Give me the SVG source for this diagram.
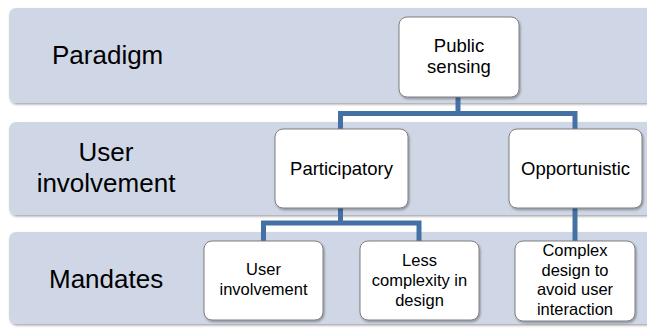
<svg xmlns="http://www.w3.org/2000/svg" width="647" height="328" viewBox="0 0 647 328">
  <defs>
    <filter id="shadow" x="-10%" y="-10%" width="125%" height="130%">
      <feDropShadow dx="1" dy="1.5" stdDeviation="1.2" flood-color="#000" flood-opacity="0.35"/>
    </filter>
  </defs>
  <style>
    .band { fill: #cfd6e5; filter: url(#shadow); }
    .box { fill: #ffffff; stroke: #7f7f7f; stroke-width: 1; filter: url(#shadow); }
    .lbl { font-family: "Liberation Sans", Arial, sans-serif; font-size: 26px; fill: #000; }
    .t { font-family: "Liberation Sans", Arial, sans-serif; font-size: 18.5px; fill: #000; text-anchor: middle; }
    .s { font-family: "Liberation Sans", Arial, sans-serif; font-size: 16.5px; fill: #000; text-anchor: middle; }
    .link { fill: none; stroke: #4470a6; stroke-width: 5; stroke-linejoin: miter; }
  </style>

  <!-- level bands -->
  <g id="band-paradigm">
    <rect class="band" x="9" y="8" width="660" height="95" rx="7"/>
    <text class="lbl" x="52" y="64">Paradigm</text>
  </g>
  <g id="band-involvement">
    <rect class="band" x="9" y="122" width="660" height="93" rx="7"/>
    <text class="lbl" x="106" y="161" text-anchor="middle">User</text>
    <text class="lbl" x="106" y="192" text-anchor="middle">involvement</text>
  </g>
  <g id="band-mandates">
    <rect class="band" x="9" y="232" width="660" height="92" rx="7"/>
    <text class="lbl" x="49" y="288">Mandates</text>
  </g>

  <!-- connectors -->
  <g id="connectors">
    <path class="link" d="M458,97 V113.5 M340.5,131 V113.5 H575 V131"/>
    <path class="link" d="M340.5,208 V223 M263.5,243 V223 H419 V243"/>
    <path class="link" d="M575,208 V243"/>
  </g>

  <!-- nodes -->
  <g id="public-sensing">
    <rect class="box" x="399" y="17" width="120" height="80" rx="8"/>
    <text class="t" x="459" y="52">Public</text>
    <text class="t" x="459" y="73">sensing</text>
  </g>
  <g id="participatory">
    <rect class="box" x="275" y="129" width="133" height="79" rx="8"/>
    <text class="t" x="341.5" y="175">Participatory</text>
  </g>
  <g id="opportunistic">
    <rect class="box" x="509" y="129" width="133" height="79" rx="8"/>
    <text class="t" x="575.5" y="175">Opportunistic</text>
  </g>
  <g id="user-involvement">
    <rect class="box" x="204" y="241" width="119" height="79" rx="8"/>
    <text class="s" x="263.5" y="275">User</text>
    <text class="s" x="263.5" y="295">involvement</text>
  </g>
  <g id="less-complexity">
    <rect class="box" x="360" y="241" width="119" height="79" rx="8"/>
    <text class="s" x="419.5" y="266">Less</text>
    <text class="s" x="419.5" y="286">complexity in</text>
    <text class="s" x="419.5" y="306">design</text>
  </g>
  <g id="complex-design">
    <rect class="box" x="515" y="241" width="120" height="80" rx="8"/>
    <text class="s" x="575" y="256">Complex</text>
    <text class="s" x="575" y="275.5">design to</text>
    <text class="s" x="575" y="295">avoid user</text>
    <text class="s" x="575" y="314.5">interaction</text>
  </g>
</svg>
